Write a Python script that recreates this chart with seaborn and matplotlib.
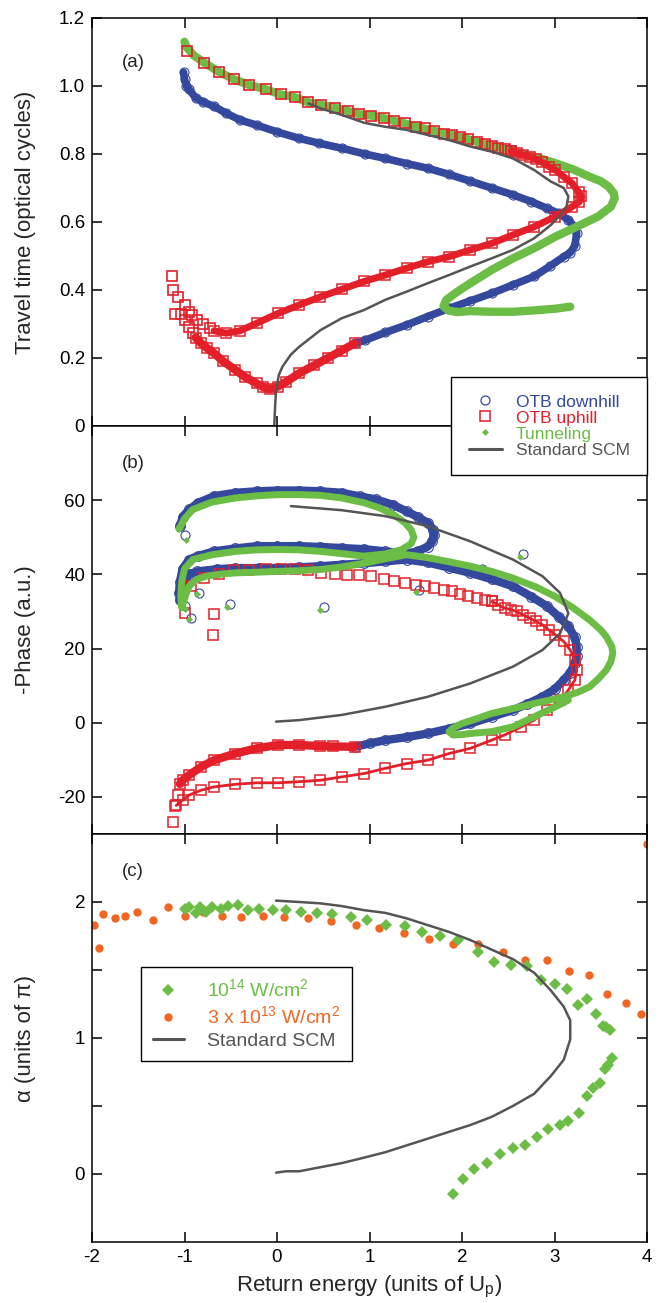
import numpy as np
import matplotlib
matplotlib.use("Agg")
import matplotlib.pyplot as plt
import seaborn as sns
from matplotlib.lines import Line2D

# ---------------- data ----------------
# Panel (a): travel time vs return energy
a_blue_path = [(-1.01,1.04),(-1.0,1.02),(-0.98,1.0),(-0.95,0.99),(-0.88,0.965),(-0.80,0.953),(-0.68,0.94),
               (-0.55,0.92),(-0.40,0.90),(-0.22,0.885),(0.0,0.865),(0.24,0.846),(0.45,0.832),(0.70,0.817),
               (0.95,0.80),(1.17,0.787),(1.40,0.772),(1.63,0.758),(1.86,0.74),(2.09,0.72),(2.32,0.70),
               (2.55,0.68),(2.75,0.66),(2.92,0.64),(3.05,0.625),(3.15,0.606),(3.22,0.585),(3.24,0.567),
               (3.22,0.53),(3.17,0.51),(3.10,0.498),(2.95,0.47),(2.78,0.44),(2.55,0.415),(2.32,0.39),
               (2.09,0.368),(1.86,0.346),(1.63,0.322),(1.40,0.297),(1.17,0.275),(0.95,0.252),(0.84,0.243)]
a_red_upper = [(-0.97,1.104),(-0.79,1.069),(-0.63,1.042),(-0.47,1.02),(-0.30,1.003),(-0.12,0.99),(0.04,0.975),
               (0.19,0.967),(0.34,0.952),(0.48,0.944),(0.63,0.936),(0.77,0.926),(0.89,0.917),(1.02,0.913),
               (1.16,0.905),(1.27,0.897),(1.38,0.89),(1.50,0.88),(1.60,0.875),(1.70,0.868),(1.80,0.86),
               (1.89,0.856),(1.98,0.851),(2.07,0.843),(2.16,0.836),(2.25,0.829),(2.32,0.824),(2.39,0.819),
               (2.46,0.815),(2.53,0.809)]
a_red_band = [(2.53,0.809),(2.59,0.802),(2.66,0.797),(2.73,0.792),(2.80,0.784),(2.87,0.775),(2.94,0.763),
              (3.01,0.753),(3.10,0.733),(3.19,0.714),(3.26,0.689),(3.29,0.675),(3.27,0.66),(3.19,0.645),
              (3.01,0.616),(2.78,0.586),(2.55,0.562),(2.32,0.537),(2.09,0.518),(1.86,0.498),(1.63,0.483),
              (1.40,0.464),(1.17,0.444),(0.94,0.425),(0.70,0.402),(0.47,0.38),(0.24,0.356),(0.01,0.331),
              (-0.22,0.302),(-0.40,0.28),(-0.55,0.273),(-0.68,0.28)]
a_red_left = [(-0.72,0.287),(-0.80,0.30),(-0.86,0.312),(-0.92,0.325),(-0.95,0.336),(-1.0,0.356),
              (-1.07,0.38),(-1.12,0.40),(-1.14,0.44),(-1.10,0.33),(-1.04,0.33),(-1.0,0.312),(-0.95,0.29),
              (-0.91,0.273)]
a_red_vband = [(0.84,0.243),(0.70,0.222),(0.55,0.20),(0.40,0.178),(0.24,0.155),(0.10,0.13),(0.01,0.116),
               (-0.08,0.108),(-0.15,0.115),(-0.22,0.125),(-0.35,0.145),(-0.45,0.165),(-0.58,0.19),
               (-0.68,0.214),(-0.76,0.23),(-0.82,0.243),(-0.88,0.26)]
a_green_path = [(-1.0,1.13),(-0.98,1.115),(-0.9,1.09),(-0.79,1.069),(-0.63,1.042),(-0.47,1.02),(-0.30,1.003),
                (-0.12,0.99),(0.04,0.975),(0.19,0.967),(0.34,0.952),(0.48,0.944),(0.63,0.936),(0.77,0.926),
                (0.89,0.917),(1.02,0.913),(1.16,0.905),(1.27,0.897),(1.38,0.89),(1.50,0.88),(1.70,0.868),
                (1.89,0.856),(2.07,0.843),(2.25,0.829),(2.46,0.815),(2.66,0.80),(2.87,0.785),(3.01,0.773),
                (3.20,0.755),(3.38,0.733),(3.50,0.72),(3.58,0.705),(3.64,0.685),(3.65,0.67),(3.61,0.645),
                (3.47,0.616),(3.24,0.586),(3.01,0.557),(2.78,0.523),(2.55,0.493),(2.32,0.459),(2.09,0.42),
                (1.95,0.395),(1.83,0.371),(1.80,0.352),(1.85,0.34),(1.95,0.335),(2.09,0.338),(2.32,0.336),
                (2.55,0.336),(2.78,0.34),(3.01,0.345),(3.17,0.351)]
a_scm = [(-0.03,0.0),(-0.02,0.06),(-0.01,0.106),(0.02,0.15),(0.06,0.175),(0.15,0.21),(0.24,0.233),
         (0.47,0.282),(0.70,0.317),(0.94,0.341),(1.17,0.371),(1.40,0.395),(1.63,0.42),(1.86,0.444),
         (2.09,0.469),(2.32,0.493),(2.55,0.518),(2.78,0.552),(2.96,0.591),(3.06,0.62),(3.13,0.645),
         (3.15,0.675),(3.10,0.70),(2.96,0.719),(2.78,0.753),(2.55,0.787),(2.32,0.807),(2.09,0.822),
         (1.86,0.841),(1.63,0.856),(1.40,0.871),(1.17,0.88),(0.94,0.892),(0.70,0.915),(0.47,0.934),
         (0.34,0.949)]

# Panel (b): -phase vs return energy
b_blue_path = [(-1.05,53.0),(-1.02,55.5),(-0.95,57.5),(-0.85,59.3),(-0.68,61.1),(-0.45,62.0),(-0.22,62.4),
               (0.0,62.6),(0.24,62.6),(0.47,62.4),(0.70,62.0),(0.90,61.0),(1.07,60.2),(1.25,58.8),
               (1.40,57.0),(1.52,55.5),(1.63,53.9),(1.69,52.0),(1.70,50.5),(1.68,49.0),(1.63,47.5),
               (1.52,46.2),(1.40,45.6),(1.17,46.2),(0.94,46.8),(0.70,47.1),(0.47,47.4),(0.24,47.6),
               (0.0,47.6),(-0.22,47.6),(-0.45,47.0),(-0.68,46.2),(-0.85,45.0),(-0.95,44.0),(-1.02,41.5),
               (-1.05,38.0),(-1.06,35.0),(-1.05,33.0),(-1.02,35.5),(-1.0,38.6),(-0.95,40.0),(-0.86,40.8),
               (-0.65,41.4),(-0.45,41.7),(-0.2,41.7),(0.01,41.7),(0.24,41.9),(0.47,42.2),(0.70,42.6),
               (0.94,43.0),(1.17,43.5),(1.40,44.0),(1.63,43.2),(1.86,41.8),(2.09,40.4),(2.32,38.7),
               (2.55,36.8),(2.75,34.0),(2.92,31.4),(3.05,28.5),(3.15,26.0),(3.22,23.0),(3.24,20.5),
               (3.24,18.0),(3.22,16.0),(3.17,13.5),(3.10,11.5),(3.00,9.0),(2.87,7.0),(2.70,5.0),
               (2.55,3.4),(2.32,1.6),(2.09,-0.2),(1.86,-1.6),(1.63,-2.9),(1.40,-3.9),(1.17,-4.7),
               (1.0,-5.6),(0.84,-6.5)]
b_blue_iso = [(-1.05,53.4),(-0.99,50.5),(-0.93,28.2),(-0.84,35.0),(-0.51,32.0),(0.51,31.1),(1.53,35.9),
              (2.22,41.4),(2.66,45.6),(-0.99,31.4)]
b_green_path = [(-1.06,52.2),(-1.0,55.0),(-0.91,57.5),(-0.7,59.5),(-0.45,60.6),(-0.2,61.2),(0.01,61.5),
                (0.24,61.5),(0.47,61.3),(0.70,60.6),(0.94,59.3),(1.10,58.0),(1.26,56.1),(1.38,54.0),
                (1.45,52.0),(1.48,50.0),(1.45,48.3),(1.35,46.7),(1.17,45.5),(0.94,44.9),(0.70,45.6),
                (0.47,46.2),(0.24,46.6),(0.01,46.7),(-0.22,46.6),(-0.45,46.2),(-0.70,45.3),(-0.91,44.0),
                (-1.0,41.5),(-1.03,38.0),(-1.04,34.0),(-1.03,31.0),(-0.98,35.0),(-0.95,36.8),(-0.87,38.6),
                (-0.77,39.5),(-0.6,40.1),(-0.45,40.4),(-0.2,40.6),(0.01,40.8),(0.24,41.0),(0.47,41.3),
                (0.70,42.0),(0.94,43.0),(1.17,44.2),(1.40,45.3),(1.63,44.5),(1.86,43.4),(2.09,42.2),
                (2.32,40.8),(2.55,39.0),(2.80,36.6),(3.01,34.0),(3.20,31.0),(3.38,27.7),(3.50,25.0),
                (3.56,23.2),(3.62,20.5),(3.63,18.7),(3.61,16.5),(3.56,14.2),(3.48,12.0),(3.38,9.7),
                (3.25,8.2),(3.10,7.0),(2.95,6.1),(2.78,5.2),(2.55,3.8),(2.32,2.5),(2.15,1.0),(2.0,-0.2),
                (1.90,-1.5),(1.86,-2.4),(1.90,-3.3),(2.0,-3.2),(2.09,-2.9),(2.32,-2.4),(2.55,-1.1),
                (2.78,1.6),(3.01,4.3),(3.15,6.1)]
b_green_iso = [(-1.06,52.2),(-0.98,49.2),(-0.95,27.9),(-0.86,34.7),(-0.54,31.2),(0.47,30.5),(1.50,35.3),
               (2.63,44.7),(-1.0,30.7)]
b_red_upper = [(-0.93,36.8),(-0.79,39.0),(-0.63,40.2),(-0.47,41.1),(-0.30,41.3),(-0.12,41.4),(0.04,41.4),
               (0.19,41.4),(0.34,41.1),(0.48,40.5),(0.63,40.2),(0.76,39.9),(0.89,39.9),(1.02,39.5),
               (1.16,38.7),(1.27,38.3),(1.38,37.7),(1.50,37.2),(1.60,36.8),(1.70,36.3),(1.80,35.9),
               (1.89,35.4),(1.98,34.8),(2.07,34.2),(2.16,33.6),(2.25,33.2),(2.32,32.7)]
b_red_outer = [(2.32,32.7),(2.39,31.8),(2.46,30.9),(2.53,30.5),(2.59,30.0),(2.66,29.1),(2.73,28.2),
               (2.80,27.3),(2.87,26.4),(2.94,25.0),(3.01,23.7),(3.10,21.9),(3.17,19.6),(3.22,16.9),
               (3.24,14.2),(3.22,11.5),(3.15,8.8),(3.06,6.1),(2.92,3.4),(2.78,0.7),(2.64,-1.1),
               (2.46,-3.3),(2.32,-4.7),(2.09,-6.9),(1.86,-8.3),(1.63,-10.1),(1.40,-11.0),(1.17,-12.3),
               (0.94,-13.7),(0.70,-14.6),(0.47,-15.5),(0.24,-15.9),(0.01,-16.2),(-0.22,-16.2),
               (-0.45,-16.6),(-0.68,-17.3),(-0.82,-18.2),(-0.95,-19.5),(-1.02,-20.9),(-1.09,-22.3)]
b_red_iso = [(-1.0,29.5),(-0.68,29.3),(-0.69,23.7),(-1.12,-26.8),(-1.10,-22.5),(-1.07,-19.5)]
b_red_inner = [(0.84,-6.5),(0.6,-6.4),(0.47,-6.3),(0.24,-6.0),(0.01,-6.0),(-0.22,-6.9),(-0.45,-8.3),
               (-0.68,-10.1),(-0.82,-11.9),(-0.95,-14.1),(-1.02,-15.5),(-1.05,-16.5)]
b_scm = [(-0.01,0.3),(0.24,0.7),(0.70,2.1),(1.17,4.3),(1.63,7.0),(2.09,10.6),(2.55,15.1),(2.87,19.6),
         (3.06,24.1),(3.15,29.5),(3.06,35.0),(2.87,39.5),(2.55,44.0),(2.09,48.9),(1.63,53.0),
         (1.17,55.7),(0.70,57.3),(0.15,58.4)]

# Panel (c): alpha vs return energy
c_e14 = [(-1.0,1.95),(-0.95,1.96),(-0.88,1.92),(-0.83,1.96),(-0.77,1.93),(-0.70,1.96),(-0.61,1.95),
         (-0.53,1.97),(-0.42,1.98),(-0.31,1.94),(-0.19,1.95),(-0.04,1.94),(0.10,1.94),(0.26,1.93),
         (0.43,1.92),(0.59,1.91),(0.80,1.89),(0.97,1.87),(1.18,1.83),(1.38,1.82),(1.57,1.78),
         (1.76,1.75),(1.96,1.72),(2.17,1.63),(2.35,1.56),(2.53,1.54),(2.70,1.53),(2.85,1.43),
         (3.00,1.40),(3.13,1.36),(3.25,1.24),(3.35,1.29),(3.45,1.18),(3.52,1.09),(3.56,1.08),
         (3.60,1.06),(3.62,0.85),(3.58,0.80),(3.55,0.77),(3.49,0.67),(3.42,0.63),(3.35,0.57),
         (3.26,0.45),(3.15,0.39),(3.06,0.36),(2.93,0.33),(2.81,0.27),(2.68,0.21),(2.55,0.19),
         (2.41,0.15),(2.27,0.08),(2.13,0.04),(2.01,-0.04),(1.90,-0.15)]
c_e13 = [(-1.98,1.83),(-1.92,1.66),(-1.88,1.91),(-1.75,1.88),(-1.64,1.90),(-1.51,1.93),(-1.34,1.87),
         (-1.18,1.96),(-1.0,1.90),(-0.80,1.93),(-0.60,1.90),(-0.39,1.89),(-0.15,1.90),(0.08,1.89),
         (0.33,1.88),(0.58,1.86),(0.85,1.83),(1.10,1.81),(1.37,1.77),(1.64,1.73),(1.90,1.69),
         (2.17,1.69),(2.44,1.63),(2.68,1.57),(2.92,1.57),(3.16,1.49),(3.37,1.46),(3.57,1.32),
         (3.77,1.26),(3.94,1.18),(4.0,2.43)]
c_scm = [(-0.01,2.01),(0.24,2.0),(0.47,1.99),(0.70,1.97),(0.94,1.94),(1.17,1.92),(1.40,1.88),(1.63,1.83),
         (1.86,1.78),(2.09,1.72),(2.32,1.65),(2.55,1.58),(2.78,1.48),(2.96,1.35),(3.10,1.23),(3.17,1.13),
         (3.17,0.99),(3.10,0.84),(2.96,0.72),(2.78,0.59),(2.55,0.50),(2.32,0.42),(2.09,0.36),(1.86,0.31),
         (1.63,0.26),(1.40,0.21),(1.17,0.16),(0.94,0.12),(0.70,0.08),(0.47,0.05),(0.24,0.02),(0.10,0.02),
         (-0.01,0.01)]

x_ticks = [-2, -1, 0, 1, 2, 3, 4]
x_ticklabels = ["-2", "-1", "0", "1", "2", "3", "4"]
a_yticks = [0, 0.2, 0.4, 0.6, 0.8, 1.0, 1.2]
a_yticklabels = ["0", "0.2", "0.4", "0.6", "0.8", "1.0", "1.2"]
b_yticks = [-20, 0, 20, 40, 60]
b_yticklabels = ["-20", "0", "20", "40", "60"]
c_yticks = [0, 0.5, 1, 1.5, 2]
c_yticklabels = ["0", "", "1", "", "2"]

# ---------------- style ----------------
sns.set_theme(style="ticks")
plt.rcParams["font.family"] = ["Liberation Sans", "DejaVu Sans"]
plt.rcParams["mathtext.fontset"] = "custom"
plt.rcParams["mathtext.rm"] = "Liberation Sans"
plt.rcParams["axes.unicode_minus"] = False

BLUE = "#34489e"
RED = "#e3202a"
GREEN = "#6cbd45"
ORANGE = "#f26522"
GREY = "#555555"

fig = plt.figure(figsize=(6.69, 13.03), dpi=100)
L, R, T, B = 92 / 669, 647 / 669, 18 / 1303, 1242 / 1303
h = (B - T) / 3
ax_a = fig.add_axes([L, 1 - T - h, R - L, h])
ax_b = fig.add_axes([L, 1 - T - 2 * h, R - L, h])
ax_c = fig.add_axes([L, 1 - B, R - L, h])


def xy(pts):
    arr = np.array(pts, dtype=float)
    return arr[:, 0], arr[:, 1]


def draw(ax, pts, color, marker=None, ms=6, mfc="none", mew=1.0, lw=0, zorder=2, ls="-", alpha=1.0):
    x, y = xy(pts)
    kws = dict(x=x, y=y, ax=ax, sort=False, estimator=None, color=color, zorder=zorder, alpha=alpha)
    if lw > 0:
        kws.update(linewidth=lw, linestyle=ls, solid_capstyle="round", solid_joinstyle="round")
    else:
        kws.update(linestyle="none")
    if marker is not None:
        kws.update(marker=marker, markersize=ms, markerfacecolor=mfc if mfc != "same" else color,
                   markeredgecolor=color, markeredgewidth=mew)
    sns.lineplot(**kws)


# Panel (a)
draw(ax_a, a_blue_path, BLUE, lw=5.5, zorder=2)
draw(ax_a, a_blue_path, BLUE, "o", ms=6.5, mew=0.8, zorder=2)
draw(ax_a, a_green_path, GREEN, lw=6.0, zorder=3)
draw(ax_a, a_red_band, RED, lw=5.0, zorder=4)
draw(ax_a, a_red_band, RED, "s", ms=6.5, mew=1.1, zorder=4)
draw(ax_a, a_red_vband, RED, lw=6.0, zorder=4)
draw(ax_a, a_red_vband, RED, "s", ms=6.5, mew=1.1, zorder=4)
draw(ax_a, a_red_upper, RED, "s", ms=6.5, mew=1.2, zorder=4)
draw(ax_a, a_red_left, RED, "s", ms=6.5, mew=1.2, zorder=4)
draw(ax_a, a_scm, GREY, lw=1.8, zorder=5)

# Panel (b)
draw(ax_b, b_blue_path, BLUE, lw=6.0, zorder=2)
draw(ax_b, b_blue_path, BLUE, "o", ms=7, mew=0.8, zorder=2)
draw(ax_b, b_blue_iso, BLUE, "o", ms=6.5, mew=0.8, zorder=2)
draw(ax_b, b_red_outer, RED, lw=2.0, zorder=3)
draw(ax_b, b_red_outer, RED, "s", ms=6.5, mew=1.1, zorder=3)
draw(ax_b, b_red_upper, RED, "s", ms=6.5, mew=1.1, zorder=3)
draw(ax_b, b_red_iso, RED, "s", ms=6.5, mew=1.1, zorder=3)
draw(ax_b, b_red_inner, RED, lw=6.0, zorder=3)
draw(ax_b, b_red_inner, RED, "s", ms=6.5, mew=1.1, zorder=3)
draw(ax_b, b_green_path, GREEN, lw=5.0, zorder=4)
draw(ax_b, b_green_iso, GREEN, "D", ms=3.5, mfc="same", mew=0, zorder=4)
draw(ax_b, b_scm, GREY, lw=1.8, zorder=5)

# Panel (c)
draw(ax_c, c_e13, ORANGE, "o", ms=6, mfc="same", mew=0, zorder=2)
draw(ax_c, c_e14, GREEN, "D", ms=6, mfc="same", mew=0, zorder=3)
draw(ax_c, c_scm, GREY, lw=1.8, zorder=4)

# axes cosmetics
for ax in (ax_a, ax_b, ax_c):
    ax.set_xlim(-2, 4)
    ax.set_xticks(x_ticks)
    ax.tick_params(direction="in", top=True, right=True, length=7, width=1.1,
                   labelsize=13.5, colors="black", pad=5)
    for sp in ax.spines.values():
        sp.set_linewidth(1.1)
        sp.set_color("black")
        sp.set_visible(True)
    ax.set_facecolor("white")
    ax.set_xlabel("")

ax_a.set_ylim(0, 1.2)
ax_a.set_yticks(a_yticks)
ax_a.set_yticklabels(a_yticklabels)
ax_b.set_ylim(-30, 80)
ax_b.set_yticks(b_yticks)
ax_b.set_yticklabels(b_yticklabels)
ax_c.set_ylim(-0.5, 2.5)
ax_c.set_yticks(c_yticks)
ax_c.set_yticklabels(c_yticklabels)
for ax in (ax_a, ax_b):
    ax.tick_params(labelbottom=False)
ax_c.set_xticklabels(x_ticklabels)

ax_a.set_ylabel("Travel time (optical cycles)", fontsize=16)
ax_b.set_ylabel("-Phase (a.u.)", fontsize=16)
ax_c.set_ylabel("α (units of π)", fontsize=16)
for ax in (ax_a, ax_b, ax_c):
    ax.yaxis.set_label_coords(-0.10, 0.5)
ax_c.set_xlabel(r"Return energy (units of U$\mathregular{_p}$)", fontsize=16, labelpad=6)

ax_a.text(0.074, 0.892, "(a)", transform=ax_a.transAxes, fontsize=13.5, ha="center", va="center")
ax_b.text(0.074, 0.909, "(b)", transform=ax_b.transAxes, fontsize=13.5, ha="center", va="center")
ax_c.text(0.074, 0.907, "(c)", transform=ax_c.transAxes, fontsize=13.5, ha="center", va="center")

# Legend for (a)/(b)
h_a = [Line2D([], [], ls="none", marker="o", ms=6.5, mfc="none", mec=BLUE, mew=0.9),
       Line2D([], [], ls="none", marker="s", ms=6.5, mfc="none", mec=RED, mew=1.1),
       Line2D([], [], ls="none", marker="D", ms=3.5, mfc=GREEN, mec=GREEN, mew=0),
       Line2D([], [], color=GREY, lw=2.2)]
lab_a = ["OTB downhill", "OTB uphill", "Tunneling", "Standard SCM"]
leg_a = fig.legend(h_a, lab_a, loc="upper right", bbox_to_anchor=(647 / 669, 1 - 377 / 1303),
                   fontsize=12.5, frameon=True, fancybox=False, framealpha=1, edgecolor="black",
                   borderpad=1.0, labelspacing=0.05, handlelength=1.9, handletextpad=0.8,
                   borderaxespad=0)
leg_a.get_frame().set_linewidth(1.0)
for t, c in zip(leg_a.get_texts(), [BLUE, RED, GREEN, GREY]):
    t.set_color(c)

# Legend for (c)
h_c = [Line2D([], [], ls="none", marker="D", ms=6, mfc=GREEN, mec=GREEN, mew=0),
       Line2D([], [], ls="none", marker="o", ms=6, mfc=ORANGE, mec=ORANGE, mew=0),
       Line2D([], [], color=GREY, lw=2.2)]
lab_c = [r"$\mathregular{10^{14}}$ W/cm$\mathregular{^2}$",
         r"3 x $\mathregular{10^{13}}$ W/cm$\mathregular{^2}$",
         "Standard SCM"]
leg_c = ax_c.legend(h_c, lab_c, loc="upper left", bbox_to_anchor=(0.088, 0.674), fontsize=14,
                    frameon=True, fancybox=False, framealpha=1, edgecolor="black",
                    borderpad=0.6, labelspacing=0.25, handlelength=1.6, handletextpad=1.2,
                    borderaxespad=0)
leg_c.get_frame().set_linewidth(1.0)
for t, c in zip(leg_c.get_texts(), [GREEN, ORANGE, GREY]):
    t.set_color(c)

fig.savefig("out.png", dpi=100, facecolor="white")
